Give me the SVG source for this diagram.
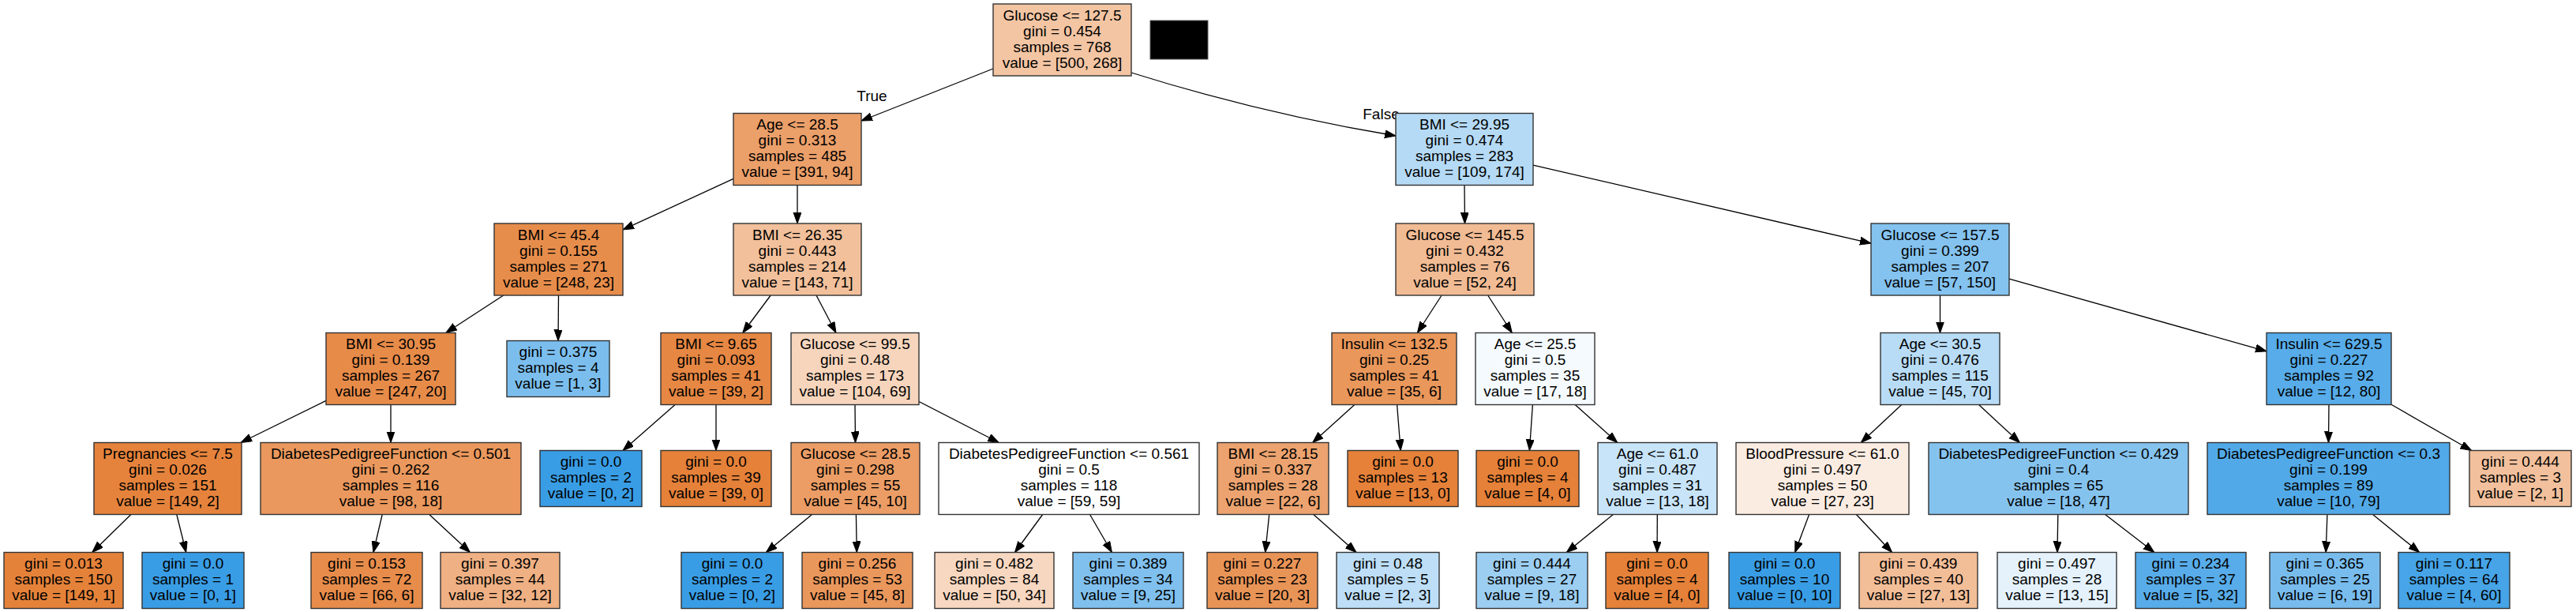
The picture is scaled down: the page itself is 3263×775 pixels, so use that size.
<svg xmlns="http://www.w3.org/2000/svg" width="3263" height="775" viewBox="0 0 3263 775">
<style>
.nd{stroke:#333;stroke-width:1.4}
text{font-family:"Liberation Sans",Arial,sans-serif;font-size:19px;fill:#000;text-anchor:middle}
.e{fill:none;stroke:#000;stroke-width:1.3;marker-end:url(#ah)}
</style>
<defs>
<marker id="ah" markerUnits="userSpaceOnUse" markerWidth="16" markerHeight="12" refX="14" refY="5" orient="auto">
<path d="M0,0 L14,5 L0,10 z" fill="#000" stroke="#000" stroke-width="1"/>
</marker>
</defs>
<rect width="3263" height="775" fill="#fff"/>
<g id="connectors">
<path class="e" d="M1258,87 L1091,153"/>
<path class="e" d="M1433,92 Q1599,144 1768,172"/>
<path class="e" d="M929,226.4 L789,290.9"/>
<path class="e" d="M1010,234.5 L1010,283"/>
<path class="e" d="M1855,234.5 L1855.5,283"/>
<path class="e" d="M1942,209.1 L2370,308.2"/>
<path class="e" d="M637.7,374 L564.8,421.5"/>
<path class="e" d="M707.5,374 L707,431.5"/>
<path class="e" d="M976.2,374 L940.8,421.5"/>
<path class="e" d="M1034,374 L1059,421.5"/>
<path class="e" d="M1826.1,374 L1795.4,421.5"/>
<path class="e" d="M1884.7,374 L1915.3,421.5"/>
<path class="e" d="M2457.5,374 L2457.5,421.5"/>
<path class="e" d="M2545,353.1 L2871,444.8"/>
<path class="e" d="M413,507.4 L305,560.5"/>
<path class="e" d="M495,512.5 L495,560.5"/>
<path class="e" d="M855.1,512.5 L789,570.5"/>
<path class="e" d="M907,512.5 L907,570.5"/>
<path class="e" d="M1083,512.5 L1083.5,560.5"/>
<path class="e" d="M1164,508.5 L1265.3,560.5"/>
<path class="e" d="M1715.8,512.5 L1662.7,560.5"/>
<path class="e" d="M1769.6,512.5 L1774.2,570.5"/>
<path class="e" d="M1941.4,512.5 L1937.4,570.5"/>
<path class="e" d="M1995.2,512.5 L2048.8,560.5"/>
<path class="e" d="M2408.7,512.5 L2357.3,560.5"/>
<path class="e" d="M2506.6,512.5 L2558.4,560.5"/>
<path class="e" d="M2950,512.5 L2949.5,560.5"/>
<path class="e" d="M3029,512.3 L3130.6,570.5"/>
<path class="e" d="M165.9,651.5 L116.8,699.5"/>
<path class="e" d="M223.8,651.5 L235.7,699.5"/>
<path class="e" d="M484.2,651.5 L472.9,699.5"/>
<path class="e" d="M543.8,651.5 L595.4,699.5"/>
<path class="e" d="M1028.5,651.5 L970.4,699.5"/>
<path class="e" d="M1084.4,651.5 L1085.3,699.5"/>
<path class="e" d="M1320.7,651.5 L1285.5,699.5"/>
<path class="e" d="M1380.5,651.5 L1408.4,699.5"/>
<path class="e" d="M1607.7,651.5 L1602.7,699.5"/>
<path class="e" d="M1663.8,651.5 L1718,699.5"/>
<path class="e" d="M2043.4,651.5 L1984.3,699.5"/>
<path class="e" d="M2099.3,651.5 L2099.1,699.5"/>
<path class="e" d="M2291.6,651.5 L2273.7,699.5"/>
<path class="e" d="M2351.4,651.5 L2396.6,699.5"/>
<path class="e" d="M2606.8,651.5 L2606,699.5"/>
<path class="e" d="M2666.6,651.5 L2728.9,699.5"/>
<path class="e" d="M2947.9,651.5 L2946.2,699.5"/>
<path class="e" d="M3005.6,651.5 L3064.7,699.5"/>
<text x="1104.5" y="128">True</text>
<text x="1749.5" y="151">False</text>
</g>
<rect id="blackbox" x="1457" y="26" width="73" height="49" fill="#000" stroke="#555" stroke-width="1"/>
<g id="n0"><rect class="nd" x="1258" y="5" width="175" height="91" fill="#f3c5a3"/><text x="1345.5" y="25.5">Glucose &lt;= 127.5</text><text x="1345.5" y="45.5">gini = 0.454</text><text x="1345.5" y="65.5">samples = 768</text><text x="1345.5" y="85.5">value = [500, 268]</text></g>
<g id="n1"><rect class="nd" x="929" y="143.5" width="162" height="91" fill="#eb9f69"/><text x="1010" y="164">Age &lt;= 28.5</text><text x="1010" y="184">gini = 0.313</text><text x="1010" y="204">samples = 485</text><text x="1010" y="224">value = [391, 94]</text></g>
<g id="n22"><rect class="nd" x="1768" y="143.5" width="174" height="91" fill="#b5daf5"/><text x="1855" y="164">BMI &lt;= 29.95</text><text x="1855" y="184">gini = 0.474</text><text x="1855" y="204">samples = 283</text><text x="1855" y="224">value = [109, 174]</text></g>
<g id="n2"><rect class="nd" x="626" y="283" width="163" height="91" fill="#e78d4b"/><text x="707.5" y="303.5">BMI &lt;= 45.4</text><text x="707.5" y="323.5">gini = 0.155</text><text x="707.5" y="343.5">samples = 271</text><text x="707.5" y="363.5">value = [248, 23]</text></g>
<g id="n11"><rect class="nd" x="929" y="283" width="162" height="91" fill="#f2c09b"/><text x="1010" y="303.5">BMI &lt;= 26.35</text><text x="1010" y="323.5">gini = 0.443</text><text x="1010" y="343.5">samples = 214</text><text x="1010" y="363.5">value = [143, 71]</text></g>
<g id="n23"><rect class="nd" x="1768" y="283" width="175" height="91" fill="#f1bb94"/><text x="1855.5" y="303.5">Glucose &lt;= 145.5</text><text x="1855.5" y="323.5">gini = 0.432</text><text x="1855.5" y="343.5">samples = 76</text><text x="1855.5" y="363.5">value = [52, 24]</text></g>
<g id="n34"><rect class="nd" x="2370" y="283" width="175" height="91" fill="#84c2ef"/><text x="2457.5" y="303.5">Glucose &lt;= 157.5</text><text x="2457.5" y="323.5">gini = 0.399</text><text x="2457.5" y="343.5">samples = 207</text><text x="2457.5" y="363.5">value = [57, 150]</text></g>
<g id="n3"><rect class="nd" x="413" y="421.5" width="164" height="91" fill="#e78b49"/><text x="495" y="442">BMI &lt;= 30.95</text><text x="495" y="462">gini = 0.139</text><text x="495" y="482">samples = 267</text><text x="495" y="502">value = [247, 20]</text></g>
<g id="n10"><rect class="nd" x="642" y="431.5" width="130" height="71" fill="#7bbeee"/><text x="707" y="452">gini = 0.375</text><text x="707" y="472">samples = 4</text><text x="707" y="492">value = [1, 3]</text></g>
<g id="n12"><rect class="nd" x="837" y="421.5" width="140" height="91" fill="#e68743"/><text x="907" y="442">BMI &lt;= 9.65</text><text x="907" y="462">gini = 0.093</text><text x="907" y="482">samples = 41</text><text x="907" y="502">value = [39, 2]</text></g>
<g id="n15"><rect class="nd" x="1002" y="421.5" width="162" height="91" fill="#f6d5bc"/><text x="1083" y="442">Glucose &lt;= 99.5</text><text x="1083" y="462">gini = 0.48</text><text x="1083" y="482">samples = 173</text><text x="1083" y="502">value = [104, 69]</text></g>
<g id="n24"><rect class="nd" x="1687" y="421.5" width="158" height="91" fill="#e9975b"/><text x="1766" y="442">Insulin &lt;= 132.5</text><text x="1766" y="462">gini = 0.25</text><text x="1766" y="482">samples = 41</text><text x="1766" y="502">value = [35, 6]</text></g>
<g id="n29"><rect class="nd" x="1869" y="421.5" width="151" height="91" fill="#f4fafe"/><text x="1944.5" y="442">Age &lt;= 25.5</text><text x="1944.5" y="462">gini = 0.5</text><text x="1944.5" y="482">samples = 35</text><text x="1944.5" y="502">value = [17, 18]</text></g>
<g id="n35"><rect class="nd" x="2382" y="421.5" width="151" height="91" fill="#b8dcf6"/><text x="2457.5" y="442">Age &lt;= 30.5</text><text x="2457.5" y="462">gini = 0.476</text><text x="2457.5" y="482">samples = 115</text><text x="2457.5" y="502">value = [45, 70]</text></g>
<g id="n42"><rect class="nd" x="2871" y="421.5" width="158" height="91" fill="#57ace9"/><text x="2950" y="442">Insulin &lt;= 629.5</text><text x="2950" y="462">gini = 0.227</text><text x="2950" y="482">samples = 92</text><text x="2950" y="502">value = [12, 80]</text></g>
<g id="n4"><rect class="nd" x="119" y="560.5" width="187" height="91" fill="#e5833c"/><text x="212.5" y="581">Pregnancies &lt;= 7.5</text><text x="212.5" y="601">gini = 0.026</text><text x="212.5" y="621">samples = 151</text><text x="212.5" y="641">value = [149, 2]</text></g>
<g id="n7"><rect class="nd" x="330" y="560.5" width="330" height="91" fill="#ea985d"/><text x="495" y="581">DiabetesPedigreeFunction &lt;= 0.501</text><text x="495" y="601">gini = 0.262</text><text x="495" y="621">samples = 116</text><text x="495" y="641">value = [98, 18]</text></g>
<g id="n13"><rect class="nd" x="684" y="570.5" width="129" height="71" fill="#399de5"/><text x="748.5" y="591">gini = 0.0</text><text x="748.5" y="611">samples = 2</text><text x="748.5" y="631">value = [0, 2]</text></g>
<g id="n14"><rect class="nd" x="837" y="570.5" width="140" height="71" fill="#e58139"/><text x="907" y="591">gini = 0.0</text><text x="907" y="611">samples = 39</text><text x="907" y="631">value = [39, 0]</text></g>
<g id="n16"><rect class="nd" x="1002" y="560.5" width="163" height="91" fill="#eb9d65"/><text x="1083.5" y="581">Glucose &lt;= 28.5</text><text x="1083.5" y="601">gini = 0.298</text><text x="1083.5" y="621">samples = 55</text><text x="1083.5" y="641">value = [45, 10]</text></g>
<g id="n19"><rect class="nd" x="1189" y="560.5" width="330" height="91" fill="#ffffff"/><text x="1354" y="581">DiabetesPedigreeFunction &lt;= 0.561</text><text x="1354" y="601">gini = 0.5</text><text x="1354" y="621">samples = 118</text><text x="1354" y="641">value = [59, 59]</text></g>
<g id="n25"><rect class="nd" x="1542" y="560.5" width="141" height="91" fill="#eca36f"/><text x="1612.5" y="581">BMI &lt;= 28.15</text><text x="1612.5" y="601">gini = 0.337</text><text x="1612.5" y="621">samples = 28</text><text x="1612.5" y="641">value = [22, 6]</text></g>
<g id="n28"><rect class="nd" x="1707" y="570.5" width="140" height="71" fill="#e58139"/><text x="1777" y="591">gini = 0.0</text><text x="1777" y="611">samples = 13</text><text x="1777" y="631">value = [13, 0]</text></g>
<g id="n30"><rect class="nd" x="1870" y="570.5" width="130" height="71" fill="#e58139"/><text x="1935" y="591">gini = 0.0</text><text x="1935" y="611">samples = 4</text><text x="1935" y="631">value = [4, 0]</text></g>
<g id="n31"><rect class="nd" x="2024" y="560.5" width="151" height="91" fill="#c8e4f8"/><text x="2099.5" y="581">Age &lt;= 61.0</text><text x="2099.5" y="601">gini = 0.487</text><text x="2099.5" y="621">samples = 31</text><text x="2099.5" y="641">value = [13, 18]</text></g>
<g id="n36"><rect class="nd" x="2199" y="560.5" width="219" height="91" fill="#fbece2"/><text x="2308.5" y="581">BloodPressure &lt;= 61.0</text><text x="2308.5" y="601">gini = 0.497</text><text x="2308.5" y="621">samples = 50</text><text x="2308.5" y="641">value = [27, 23]</text></g>
<g id="n39"><rect class="nd" x="2443" y="560.5" width="329" height="91" fill="#85c3ef"/><text x="2607.5" y="581">DiabetesPedigreeFunction &lt;= 0.429</text><text x="2607.5" y="601">gini = 0.4</text><text x="2607.5" y="621">samples = 65</text><text x="2607.5" y="641">value = [18, 47]</text></g>
<g id="n43"><rect class="nd" x="2796" y="560.5" width="307" height="91" fill="#52a9e8"/><text x="2949.5" y="581">DiabetesPedigreeFunction &lt;= 0.3</text><text x="2949.5" y="601">gini = 0.199</text><text x="2949.5" y="621">samples = 89</text><text x="2949.5" y="641">value = [10, 79]</text></g>
<g id="n46"><rect class="nd" x="3128" y="570.5" width="129" height="71" fill="#f2c09c"/><text x="3192.5" y="591">gini = 0.444</text><text x="3192.5" y="611">samples = 3</text><text x="3192.5" y="631">value = [2, 1]</text></g>
<g id="n5"><rect class="nd" x="5" y="699.5" width="151" height="71" fill="#e5823a"/><text x="80.5" y="720">gini = 0.013</text><text x="80.5" y="740">samples = 150</text><text x="80.5" y="760">value = [149, 1]</text></g>
<g id="n6"><rect class="nd" x="180" y="699.5" width="129" height="71" fill="#399de5"/><text x="244.5" y="720">gini = 0.0</text><text x="244.5" y="740">samples = 1</text><text x="244.5" y="760">value = [0, 1]</text></g>
<g id="n8"><rect class="nd" x="394" y="699.5" width="141" height="71" fill="#e78c4b"/><text x="464.5" y="720">gini = 0.153</text><text x="464.5" y="740">samples = 72</text><text x="464.5" y="760">value = [66, 6]</text></g>
<g id="n9"><rect class="nd" x="558" y="699.5" width="151" height="71" fill="#efb083"/><text x="633.5" y="720">gini = 0.397</text><text x="633.5" y="740">samples = 44</text><text x="633.5" y="760">value = [32, 12]</text></g>
<g id="n17"><rect class="nd" x="863" y="699.5" width="129" height="71" fill="#399de5"/><text x="927.5" y="720">gini = 0.0</text><text x="927.5" y="740">samples = 2</text><text x="927.5" y="760">value = [0, 2]</text></g>
<g id="n18"><rect class="nd" x="1016" y="699.5" width="140" height="71" fill="#ea975c"/><text x="1086" y="720">gini = 0.256</text><text x="1086" y="740">samples = 53</text><text x="1086" y="760">value = [45, 8]</text></g>
<g id="n20"><rect class="nd" x="1184" y="699.5" width="151" height="71" fill="#f7d7c0"/><text x="1259.5" y="720">gini = 0.482</text><text x="1259.5" y="740">samples = 84</text><text x="1259.5" y="760">value = [50, 34]</text></g>
<g id="n21"><rect class="nd" x="1359" y="699.5" width="140" height="71" fill="#80c0ee"/><text x="1429" y="720">gini = 0.389</text><text x="1429" y="740">samples = 34</text><text x="1429" y="760">value = [9, 25]</text></g>
<g id="n26"><rect class="nd" x="1529" y="699.5" width="140" height="71" fill="#e99457"/><text x="1599" y="720">gini = 0.227</text><text x="1599" y="740">samples = 23</text><text x="1599" y="760">value = [20, 3]</text></g>
<g id="n27"><rect class="nd" x="1693" y="699.5" width="130" height="71" fill="#bddef6"/><text x="1758" y="720">gini = 0.48</text><text x="1758" y="740">samples = 5</text><text x="1758" y="760">value = [2, 3]</text></g>
<g id="n32"><rect class="nd" x="1870" y="699.5" width="141" height="71" fill="#9ccef2"/><text x="1940.5" y="720">gini = 0.444</text><text x="1940.5" y="740">samples = 27</text><text x="1940.5" y="760">value = [9, 18]</text></g>
<g id="n33"><rect class="nd" x="2034" y="699.5" width="130" height="71" fill="#e58139"/><text x="2099" y="720">gini = 0.0</text><text x="2099" y="740">samples = 4</text><text x="2099" y="760">value = [4, 0]</text></g>
<g id="n37"><rect class="nd" x="2190" y="699.5" width="141" height="71" fill="#399de5"/><text x="2260.5" y="720">gini = 0.0</text><text x="2260.5" y="740">samples = 10</text><text x="2260.5" y="760">value = [0, 10]</text></g>
<g id="n38"><rect class="nd" x="2355" y="699.5" width="150" height="71" fill="#f2be98"/><text x="2430" y="720">gini = 0.439</text><text x="2430" y="740">samples = 40</text><text x="2430" y="760">value = [27, 13]</text></g>
<g id="n40"><rect class="nd" x="2530" y="699.5" width="151" height="71" fill="#e5f2fc"/><text x="2605.5" y="720">gini = 0.497</text><text x="2605.5" y="740">samples = 28</text><text x="2605.5" y="760">value = [13, 15]</text></g>
<g id="n41"><rect class="nd" x="2705" y="699.5" width="140" height="71" fill="#58ace9"/><text x="2775" y="720">gini = 0.234</text><text x="2775" y="740">samples = 37</text><text x="2775" y="760">value = [5, 32]</text></g>
<g id="n44"><rect class="nd" x="2875" y="699.5" width="140" height="71" fill="#78bced"/><text x="2945" y="720">gini = 0.365</text><text x="2945" y="740">samples = 25</text><text x="2945" y="760">value = [6, 19]</text></g>
<g id="n45"><rect class="nd" x="3038" y="699.5" width="141" height="71" fill="#46a4e7"/><text x="3108.5" y="720">gini = 0.117</text><text x="3108.5" y="740">samples = 64</text><text x="3108.5" y="760">value = [4, 60]</text></g>
</svg>
